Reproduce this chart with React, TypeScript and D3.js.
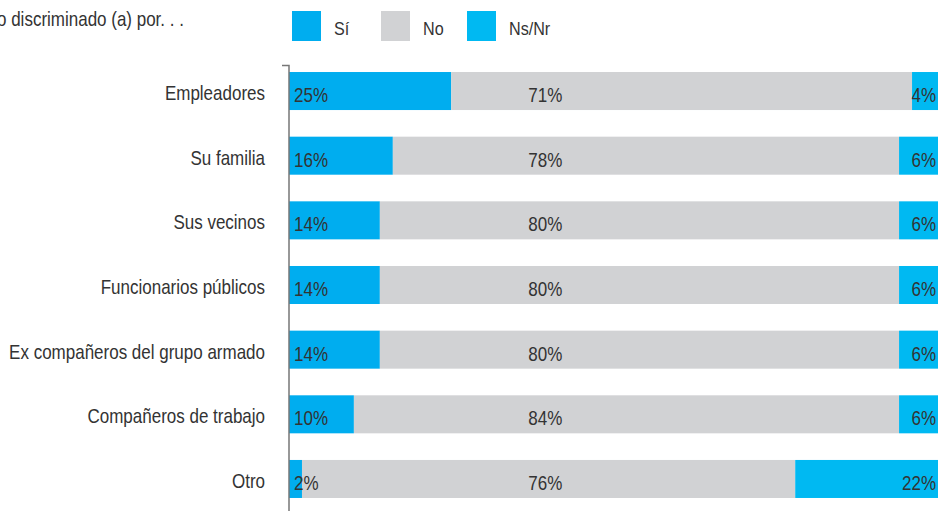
import React from 'react';
import * as d3 from 'd3';

const categories = [
  'Empleadores',
  'Su familia',
  'Sus vecinos',
  'Funcionarios públicos',
  'Ex compañeros del grupo armado',
  'Compañeros de trabajo',
  'Otro',
];
const si = [25, 16, 14, 14, 14, 10, 2];
const no = [71, 78, 80, 80, 80, 84, 76];
const nsnr = [4, 6, 6, 6, 6, 6, 22];

const seriesNames = ['Sí', 'No', 'Ns/Nr'];
const colors = ['#00adef', '#d1d2d4', '#00b9f2'];

const width = 940;
const height = 511;
const font = '"Liberation Sans", Arial, sans-serif';
const textColor = '#333333';
const squeeze = 0.85; // condensed look

// narrow text: the page has no condensed face, so squeeze a normal one
const NText: React.FC<{ x: number; y: number; size: number; anchor?: string; children: React.ReactNode }> =
  ({ x, y, size, anchor = 'start', children }) => (
    <text transform={`translate(${x},${y}) scale(${squeeze},1)`} fontSize={size}
      fill={textColor} textAnchor={anchor}>{children}</text>
  );

const App: React.FC = () => {
  const x = d3.scaleLinear().domain([0, 100]).range([289, 938]);
  const y = d3.scaleBand<string>()
    .domain(categories)
    .range([58.7, 511.3])
    .paddingInner(0.412)
    .paddingOuter(0.206);

  const rows = categories.map((c, i) => ({ c, vals: [si[i], no[i], nsnr[i]] }));

  return (
    <svg width={width} height={height} style={{ position: 'absolute', left: 0, top: 0 }} fontFamily={font}>
      {/* title, cut at the left edge as in the source */}
      <NText x={-3} y={26} size={20}>o discriminado (a) por. . .</NText>

      {/* legend */}
      {seriesNames.map((s, i) => {
        const lx = [292, 381, 467][i];
        return (
          <g key={s}>
            <rect x={lx} y={11} width={29} height={30} fill={colors[i]} />
            <NText x={lx + 42} y={35} size={19}>{s}</NText>
          </g>
        );
      })}

      {/* bars */}
      {rows.map(r => {
        const y0 = y(r.c)!;
        const stack = d3.cumsum(r.vals);
        return (
          <g key={r.c}>
            {r.vals.map((v, j) => {
              const start = j === 0 ? 0 : stack[j - 1];
              return (
                <rect key={j} x={x(start)} y={y0} width={x(start + v) - x(start)}
                  height={y.bandwidth()} fill={colors[j]} />
              );
            })}
            <NText x={x(0) + 5} y={y0 + 30} size={20}>{r.vals[0]}%</NText>
            <NText x={x(39.5)} y={y0 + 30} size={20} anchor="middle">{r.vals[1]}%</NText>
            <NText x={x(100) - 2} y={y0 + 30} size={20} anchor="end">{r.vals[2]}%</NText>
            <NText x={265} y={y0 + 28} size={20} anchor="end">{r.c}</NText>
          </g>
        );
      })}

      {/* axis */}
      <path d={`M282,65.5H289V${height}`} fill="none" stroke="#777" strokeWidth={1.5} />
    </svg>
  );
};

export default App;
